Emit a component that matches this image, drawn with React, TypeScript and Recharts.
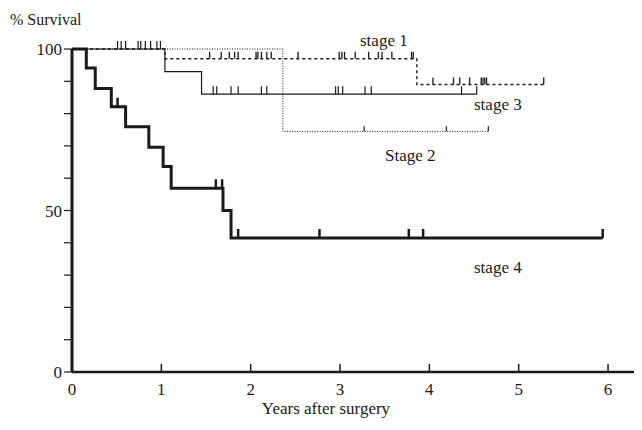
// Kaplan-Meier survival by stage

import React from "react";
import { ComposedChart, Line, XAxis, YAxis } from "recharts";

// step times (years) and survival (%) for each stage
const stage1Times = [0, 1.04, 3.86];
const stage1Surv = [100, 97, 89];
const stage1Censored = [
  1.54, 1.67, 1.76, 1.82, 1.86, 2.06, 2.08, 2.12, 2.18, 2.23, 2.53, 2.99, 3.02,
  3.05, 3.17, 3.32, 3.43, 3.47, 3.58, 3.8, 3.82, 4.04, 4.27, 4.34, 4.45, 4.58,
  4.6, 4.62, 4.64, 5.28,
];

const stage2Times = [0, 2.36];
const stage2Surv = [100, 74.5];
const stage2Censored = [3.27, 4.19, 4.66];

const stage3Times = [0, 1.04, 1.45];
const stage3Surv = [100, 93, 86];
const stage3Censored = [
  0.51, 0.55, 0.6, 0.74, 0.77, 0.82, 0.88, 0.95, 0.99, 1.58, 1.62, 1.78, 1.86,
  2.12, 2.18, 2.95, 2.98, 3.03, 3.28, 3.35, 4.36, 4.53,
];

const stage4Times = [0, 0.16, 0.26, 0.44, 0.6, 0.86, 1.02, 1.11, 1.69, 1.78];
const stage4Surv = [100, 94.1, 87.8, 82.1, 75.9, 69.6, 63.6, 56.9, 50, 41.5];
const stage4Censored = [0.51, 1.61, 1.68, 1.86, 2.77, 3.77, 3.93, 5.94];

const xTicks = [0, 1, 2, 3, 4, 5, 6];
const yTicks = [0, 10, 20, 30, 40, 50, 60, 70, 80, 90, 100];
const yLabels = [0, 50, 100];

const FONT = "'Liberation Serif', 'Times New Roman', serif";
const INK = "#1a1a1a";

// merge steps and censored times into one sorted series
function buildSeries(times, surv, censored) {
  const pts = times.map((t, i) => ({ t, s: surv[i], c: false }));
  censored.forEach((t) => {
    let s = surv[0];
    times.forEach((tt, i) => {
      if (tt <= t) s = surv[i];
    });
    pts.push({ t, s, c: true });
  });
  return pts.sort((a, b) => a.t - b.t);
}

const stage1 = buildSeries(stage1Times, stage1Surv, stage1Censored);
const stage2 = buildSeries(stage2Times, stage2Surv, stage2Censored);
const stage3 = buildSeries(stage3Times, stage3Surv, stage3Censored);
const stage4 = buildSeries(stage4Times, stage4Surv, stage4Censored);

// vertical censor mark rising from the curve
const censorDot = (h, w) => (props) => {
  const { cx, cy, payload, index } = props;
  if (!payload || !payload.c) return <g key={index} />;
  return (
    <line
      key={index}
      x1={cx}
      x2={cx}
      y1={cy}
      y2={cy - h}
      stroke={INK}
      strokeWidth={w}
    />
  );
};

const XTick = ({ x, y, payload }) => (
  <g>
    {payload.value !== 0 && (
      <line x1={x} x2={x} y1={y} y2={y - 8} stroke={INK} strokeWidth={1.5} />
    )}
    <text
      x={x}
      y={y + 23}
      textAnchor="middle"
      fontFamily={FONT}
      fontSize={17}
      fill={INK}
    >
      {payload.value}
    </text>
  </g>
);

const labelStyle = {
  position: "absolute",
  fontFamily: FONT,
  fontSize: 17,
  lineHeight: "17px",
  color: INK,
  whiteSpace: "nowrap",
};

export default function App() {
  return (
    <div style={{ position: "relative", width: 634, height: 422 }}>
      <ComposedChart
        width={634}
        height={422}
        margin={{ top: 41, right: 0, left: 0, bottom: 0 }}
      >
        <XAxis
          type="number"
          dataKey="t"
          domain={[0, 6.38]}
          ticks={xTicks}
          allowDataOverflow
          height={58}
          tickSize={0}
          tickMargin={0}
          tickLine={false}
          tick={<XTick />}
          axisLine={{ stroke: INK, strokeWidth: 2.5 }}
        />
        <YAxis
          type="number"
          domain={[0, 100]}
          ticks={yTicks}
          width={64}
          tickSize={8}
          tickMargin={2}
          tickFormatter={(v) => (yLabels.includes(v) ? String(v) : "")}
          tick={{ fontFamily: FONT, fontSize: 17, fill: INK }}
          tickLine={{ stroke: INK, strokeWidth: 1.2 }}
          axisLine={{ stroke: INK, strokeWidth: 3 }}
        />
        <Line
          data={stage2}
          dataKey="s"
          type="stepAfter"
          stroke={INK}
          strokeWidth={1}
          strokeDasharray="1 1.5"
          dot={censorDot(5, 1.2)}
          activeDot={false}
          isAnimationActive={false}
        />
        <Line
          data={stage1}
          dataKey="s"
          type="stepAfter"
          stroke={INK}
          strokeWidth={1.4}
          strokeDasharray="3 3"
          dot={censorDot(7, 1.3)}
          activeDot={false}
          isAnimationActive={false}
        />
        <Line
          data={stage3}
          dataKey="s"
          type="stepAfter"
          stroke={INK}
          strokeWidth={1.2}
          dot={censorDot(8, 1.2)}
          activeDot={false}
          isAnimationActive={false}
        />
        <Line
          data={stage4}
          dataKey="s"
          type="stepAfter"
          stroke={INK}
          strokeWidth={3}
          dot={censorDot(9, 2.5)}
          activeDot={false}
          isAnimationActive={false}
        />
      </ComposedChart>

      <div style={{ ...labelStyle, fontSize: 16, left: 2, top: 3 }}>
        % Survival
      </div>
      <div style={{ ...labelStyle, left: 352, top: 24 }}>stage 1</div>
      <div style={{ ...labelStyle, left: 466, top: 88 }}>stage 3</div>
      <div style={{ ...labelStyle, left: 377, top: 139 }}>Stage 2</div>
      <div style={{ ...labelStyle, left: 466, top: 251 }}>stage 4</div>
      <div
        style={{
          ...labelStyle,
          left: 318,
          top: 392,
          transform: "translateX(-50%)",
        }}
      >
        Years after surgery
      </div>
    </div>
  );
}
